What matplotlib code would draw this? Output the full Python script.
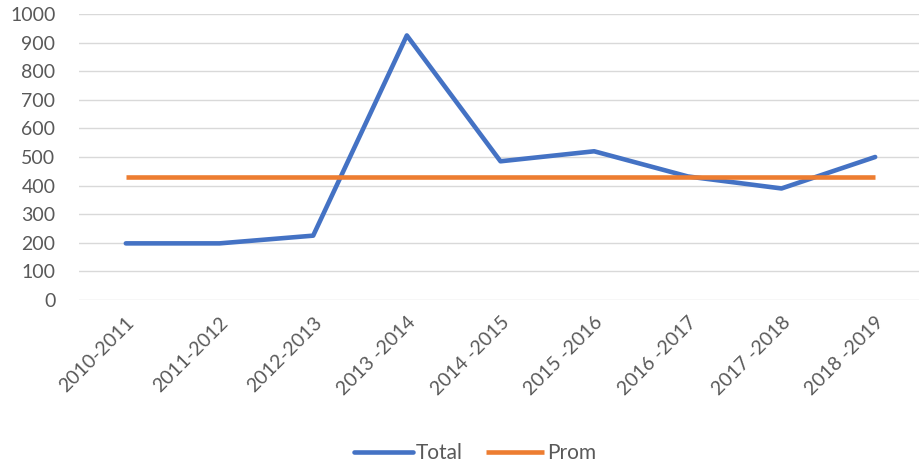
import matplotlib
matplotlib.use("Agg")
import matplotlib.pyplot as plt
import numpy as np

categories = ["2010-2011", "2011-2012", "2012-2013", "2013 -2014", "2014 -2015",
              "2015 -2016", "2016 -2017", "2017 -2018", "2018 -2019"]
total = [198, 198, 225, 925, 485, 520, 432, 390, 500]
prom = [430] * len(categories)

plt.rcParams['font.family'] = ['Lato', 'DejaVu Sans']
txt = '#595959'

fig = plt.figure(figsize=(9.2, 4.68), dpi=100)
ax = fig.add_axes([79/920, 1 - 300/468, 843/920, 286/468])

x = np.arange(len(categories))
ax.plot(x, total, color='#4472C4', lw=3.3, label='Total', solid_capstyle='round', solid_joinstyle='round')
ax.plot(x, prom, color='#ED7D31', lw=3.3, label='Prom', solid_capstyle='butt')

ax.set_xlim(-0.5, len(categories) - 0.5)
ax.set_ylim(0, 1000)
ax.set_yticks(range(0, 1001, 100))
ax.grid(axis='y', color='#d9d9d9', lw=1)
ax.set_axisbelow(True)
for s in ax.spines.values():
    s.set_visible(False)
ax.tick_params(axis='both', length=0, labelsize=14, colors=txt)
ax.tick_params(axis='y', pad=17)
ax.set_xticks(x)
ax.set_xticklabels(categories, rotation=45, ha='right', va='top', rotation_mode='anchor')
ax.tick_params(axis='x', pad=10)

leg = ax.legend(loc='center', bbox_to_anchor=(0.47, (453 - 300) / -286), ncol=2,
                frameon=False, fontsize=15, handlelength=2.8, handletextpad=0.15,
                columnspacing=1.1, labelcolor=txt)

fig.savefig('out.png', dpi=100)
